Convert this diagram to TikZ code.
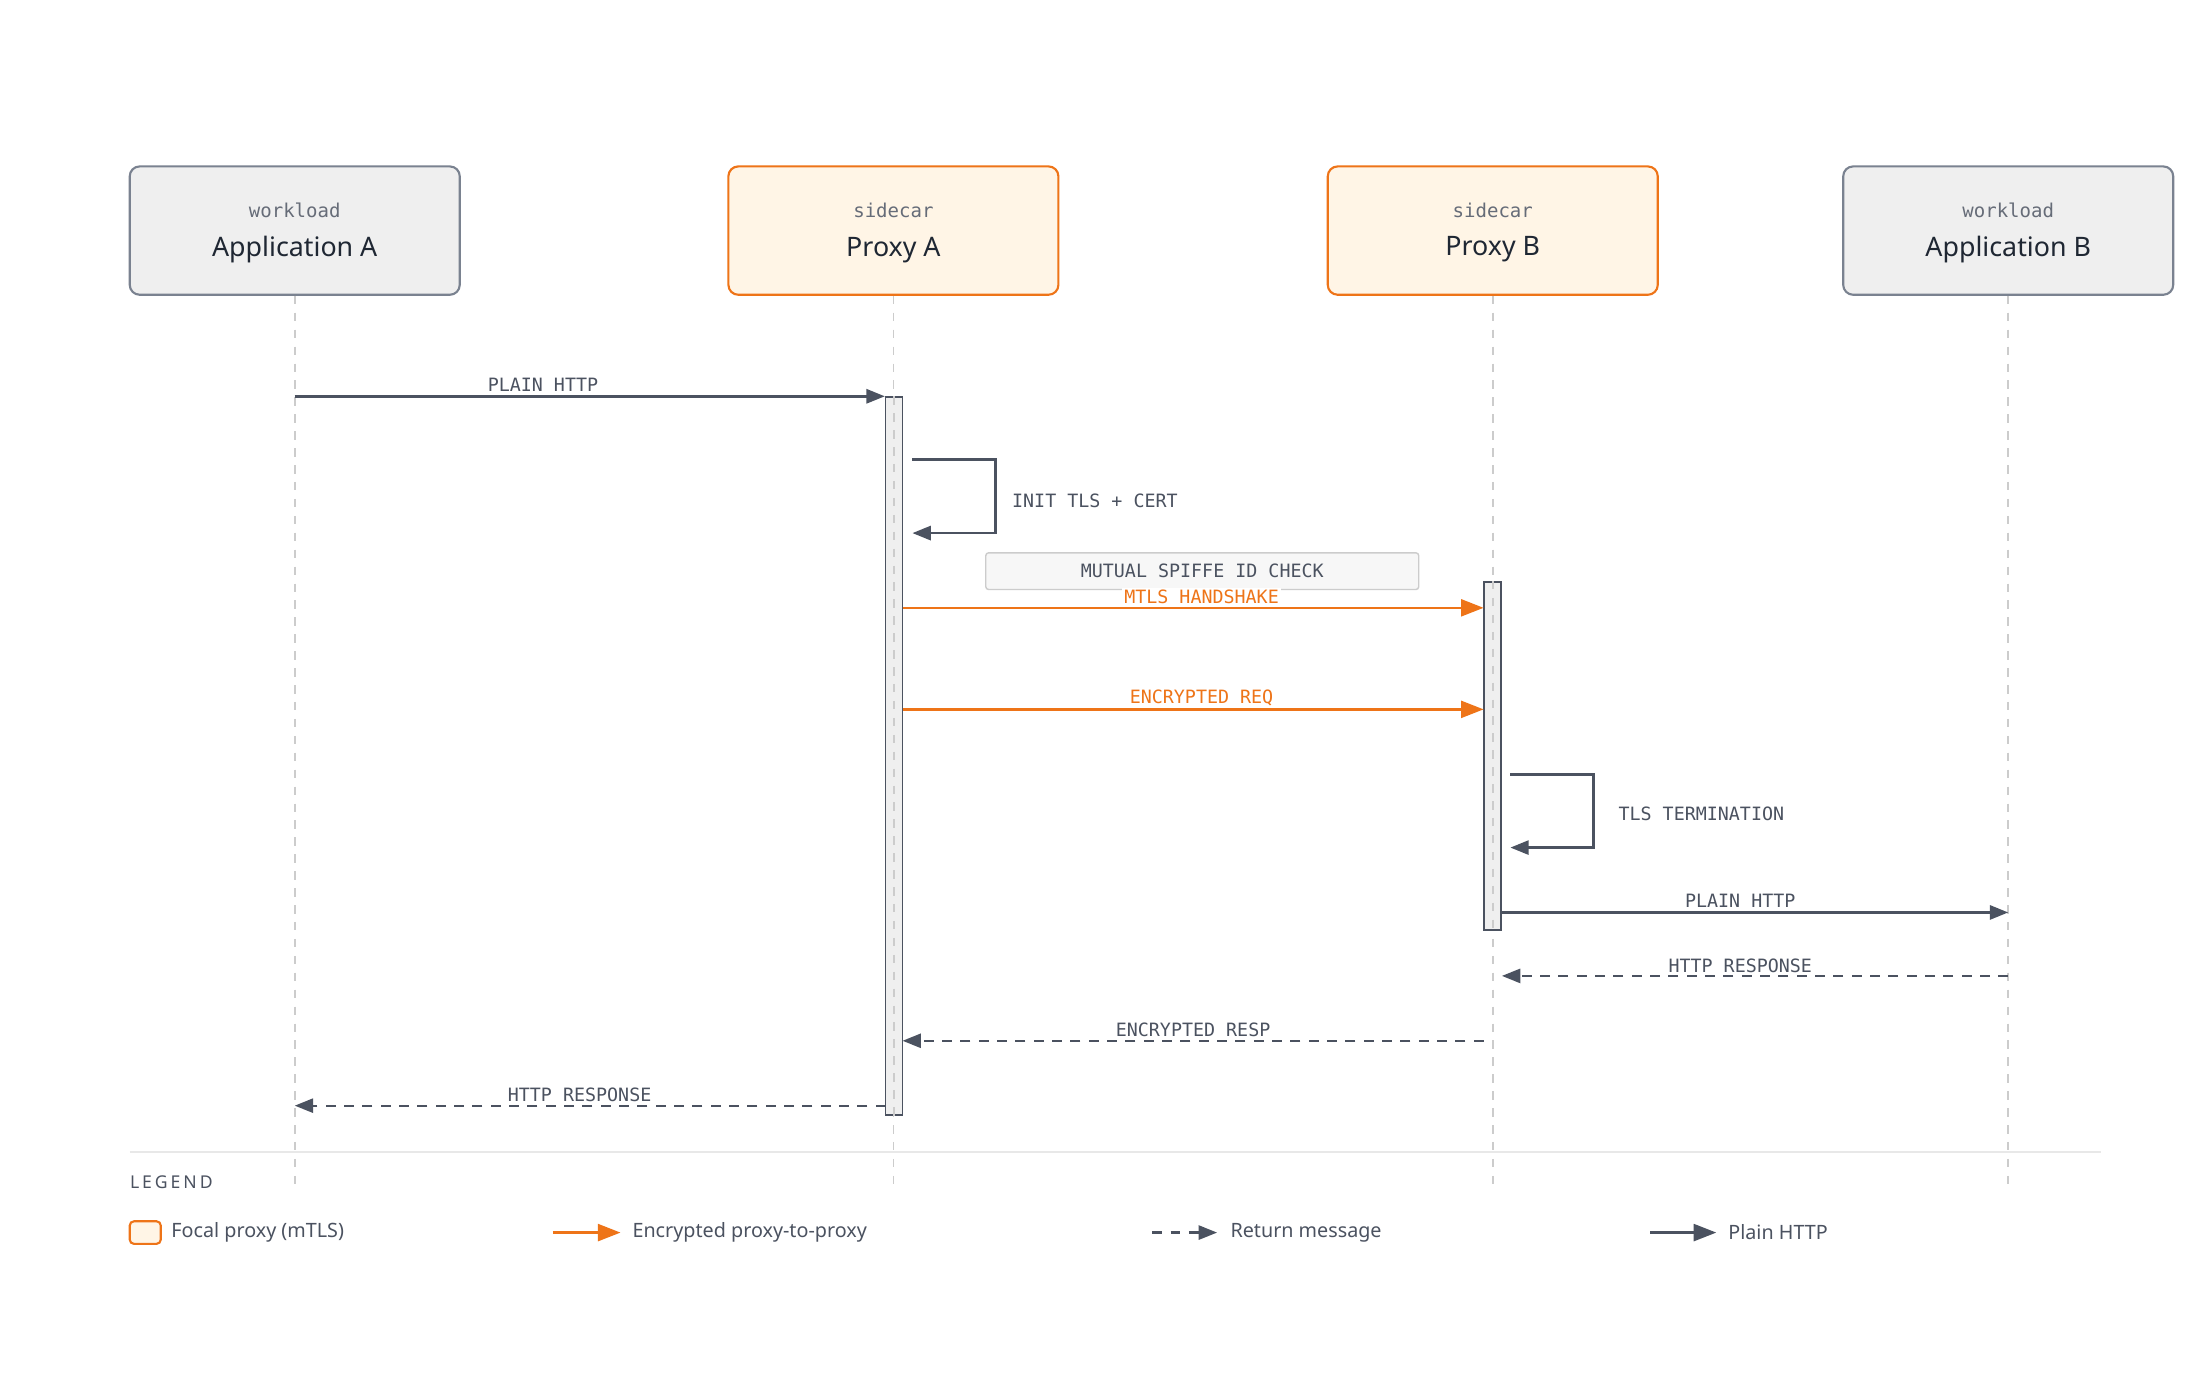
\documentclass[tikz,border=0pt]{standalone}
\usepackage{fontspec}
\setmainfont{Noto Sans}
\newfontfamily\monof{DejaVu Sans Mono}
\usetikzlibrary{arrows.meta}
\definecolor{ink}{HTML}{1F2733}
\definecolor{lineg}{HTML}{4B5260}
\definecolor{boxg}{HTML}{EFEFEF}
\definecolor{boxs}{HTML}{7A8290}
\definecolor{org}{HTML}{EE7418}
\definecolor{orgf}{HTML}{FFF5E6}
\definecolor{lifel}{HTML}{CCCCCC}
\tikzset{
 x=1pt,y=-1pt,
 actor/.style={draw=boxs,fill=boxg,line width=1.5pt,rounded corners=7pt,minimum width=234pt,minimum height=91pt},
 focal/.style={actor,draw=org,fill=orgf},
 ttl/.style={font=\fontsize{19}{22}\selectfont\bfseries,text=ink},
 sub/.style={font=\monof\fontsize{13.5}{15}\selectfont,text=lineg!85},
 life/.style={draw=lifel,line width=1.2pt,dash pattern=on 6pt off 6pt},
 act/.style={draw=lineg,fill=boxg,line width=1.2pt,minimum width=12pt,inner sep=0},
 msg/.style={draw=lineg,line width=1.8pt,-{Triangle[length=13pt,width=10pt]}},
 emsg/.style={msg,draw=org,-{Triangle[length=16pt,width=12pt]}},
 rmsg/.style={msg,line width=1.6pt,dash pattern=on 7pt off 6pt},
 lbl/.style={font=\monof\fontsize{13}{15}\selectfont,text=lineg,fill=white,inner sep=1.5pt},
 olbl/.style={lbl,text=org},
 leg/.style={font=\fontsize{14}{16}\selectfont,text=lineg,anchor=west},
}
\begin{document}
\begin{tikzpicture}
\useasboundingbox (0,0) rectangle (1560,975);
\fill[white] (0,0) rectangle (1560,975);
% actors
\node[actor] (aA) at (209,163.5) {};
\node[focal] (pA) at (633.5,163.5) {};
\node[focal] (pB) at (1058.5,163.5) {};
\node[actor] (aB) at (1424,163.5) {};
\foreach \n/\t/\s in {aA/Application A/workload,pA/Proxy A/sidecar,pB/Proxy B/sidecar,aB/Application B/workload}{
  \node[ttl] (\n t) at ([yshift=-13.5pt]\n.center) {\t};
  \node[sub] (\n s) at ([yshift=14.5pt]\n.center) {\s};
}
% lifelines
\foreach \n in {aA,pA,pB,aB}{
  \coordinate (\n e) at (\n.south |- 0,840);
  \draw[life] (\n.south) -- (\n e);
}
% activations
\node[act,minimum height=509pt,anchor=north] (actA) at (634,281) {};
\node[act,minimum height=247pt,anchor=north] (actB) at (1058.5,412) {};
\draw[life] (actA.north) -- (actA.south);
\draw[life] (actB.north) -- (actB.south);
% plain http 1
\coordinate (m1s) at (209,281);
\draw[msg] (m1s) -- (actA.north west);
\node[lbl] (l1) at (385,273) {PLAIN HTTP};
% self loop A
\coordinate (sa1) at (647,326); \coordinate (sa2) at (647,378);
\draw[msg] (sa1) -- (706,326) -- (706,378) -- (sa2);
\node[lbl,anchor=west] (l2) at (716,355) {INIT TLS + CERT};
% note
\node[draw=lifel,fill=boxg!50,line width=1pt,rounded corners=2pt,minimum width=307pt,minimum height=26pt,font=\monof\fontsize{13}{15}\selectfont,text=lineg] (note) at (852.5,405) {MUTUAL SPIFFE ID CHECK};
% mtls
\coordinate (m3s) at (640,431); \coordinate (m3e) at (1052,431);
\draw[emsg] (m3s) -- (m3e);
\node[olbl] (l3) at (852,423) {MTLS HANDSHAKE};
\coordinate (m4s) at (640,503); \coordinate (m4e) at (1052,503);
\draw[emsg] (m4s) -- (m4e);
\node[olbl] (l4) at (852,495) {ENCRYPTED REQ};
% self loop B
\coordinate (sb1) at (1071,549); \coordinate (sb2) at (1071,601);
\draw[msg] (sb1) -- (1130,549) -- (1130,601) -- (sb2);
\node[lbl,anchor=west] (l5) at (1146,577) {TLS TERMINATION};
% plain http 2
\coordinate (m6s) at (1065,647); \coordinate (m6e) at (1424,647);
\draw[msg] (m6s) -- (m6e);
\node[lbl] (l6) at (1234,639) {PLAIN HTTP};
% returns
\coordinate (r1s) at (1424,692); \coordinate (r1e) at (1065,692);
\draw[rmsg] (r1s) -- (r1e);
\node[lbl] (l7) at (1234,685) {HTTP RESPONSE};
\coordinate (r2s) at (1052,738); \coordinate (r2e) at (640,738);
\draw[rmsg] (r2s) -- (r2e);
\node[lbl] (l8) at (846,730) {ENCRYPTED RESP};
\coordinate (r3s) at (628,784); \coordinate (r3e) at (209,784);
\draw[rmsg] (r3s) -- (r3e);
\node[lbl] (l9) at (411,776) {HTTP RESPONSE};
% separator
\coordinate (sp1) at (92,817); \coordinate (sp2) at (1490,817);
\draw[draw=boxg!80!lifel,line width=1.2pt] (sp1) -- (sp2);
\node[anchor=west,inner sep=0,font=\fontsize{12.5}{14}\selectfont,text=lineg] (legt) at (92,838) {L\,E\,G\,E\,N\,D};
% legend
\node[draw=org,fill=orgf,line width=1.5pt,rounded corners=3pt,minimum width=22pt,minimum height=16pt,inner sep=0] (sw) at (103,874) {};
\node[leg] (lg1) at (118,874) {Focal proxy (mTLS)};
\coordinate (la1) at (392,874); \coordinate (la2) at (440,874);
\draw[emsg] (la1) -- (la2);
\node[leg] (lg2) at (445,874) {Encrypted proxy-to-proxy};
\coordinate (lb1) at (817,874); \coordinate (lb2) at (863,874);
\draw[rmsg] (lb1) -- (lb2);
\node[leg] (lg3) at (869,874) {Return message};
\coordinate (lc1) at (1170,874); \coordinate (lc2) at (1217,874);
\draw[msg,-{Triangle[length=16pt,width=12pt]}] (lc1) -- (lc2);
\node[leg] (lg4) at (1222,874) {Plain HTTP};
\end{tikzpicture}
\end{document}
